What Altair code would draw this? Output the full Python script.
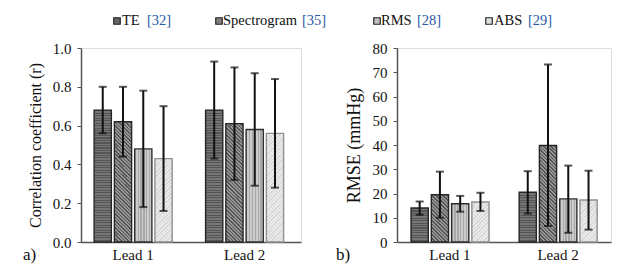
import math
import altair as alt
import pandas as pd

# ---------------- data ----------------
leads = ["Lead 1", "Lead 2"]
methods = ["TE", "Spectrogram", "RMS", "ABS"]
refs = ["[32]", "[35]", "[28]", "[29]"]

r_mean_lead1 = [0.68, 0.62, 0.48, 0.43]
r_lo_lead1 = [0.56, 0.44, 0.18, 0.16]
r_hi_lead1 = [0.80, 0.80, 0.78, 0.70]
r_mean_lead2 = [0.68, 0.61, 0.58, 0.56]
r_lo_lead2 = [0.43, 0.32, 0.29, 0.28]
r_hi_lead2 = [0.93, 0.90, 0.87, 0.84]

rmse_mean_lead1 = [14.0, 19.5, 15.8, 16.5]
rmse_lo_lead1 = [11.2, 10.0, 12.5, 12.8]
rmse_hi_lead1 = [16.7, 29.0, 19.0, 20.3]
rmse_mean_lead2 = [20.5, 39.8, 17.8, 17.3]
rmse_lo_lead2 = [11.7, 6.6, 3.8, 5.1]
rmse_hi_lead2 = [29.2, 73.2, 31.5, 29.4]

r_ticks = [0.0, 0.2, 0.4, 0.6, 0.8, 1.0]
rmse_ticks = [0, 10, 20, 30, 40, 50, 60, 70, 80]

# ---------------- styles ----------------
FONT = "'Liberation Serif', 'Times New Roman', 'DejaVu Serif', serif"
FS = 15
H = 194
WA, WB = 220, 214
BAR_W = 17
fills = {  # (dark, light, pattern)
    "TE": ("#555555", "#767676", "h"),
    "Spectrogram": ("#555555", "#969696", "d1"),
    "RMS": ("#a8a8a8", "#cccccc", "v"),
    "ABS": ("#d6d6d6", "#ececec", "d2"),
}
strokes = {"TE": "#262626", "Spectrogram": "#262626", "RMS": "#2e2e2e", "ABS": "#8f8f8f"}
solid = {"TE": "#666666", "Spectrogram": "#808080", "RMS": "#c0c0c0", "ABS": "#e2e2e2"}


def stripe_stops(c1, c2, n):
    stops = []
    n = max(1, int(round(n)))
    for i in range(n):
        a, b, c = i / n, (i + 0.45) / n, (i + 1) / n
        stops += [{"offset": a, "color": c1}, {"offset": b, "color": c1},
                  {"offset": b, "color": c2}, {"offset": c, "color": c2}]
    return stops


def gradient(method, hpx):
    c1, c2, pat = fills[method]
    w = BAR_W
    h = max(hpx, 1.0)
    period = 2.5
    if pat == "h":
        return {"gradient": "linear", "x1": 0, "y1": 0, "x2": 0, "y2": 1,
                "stops": stripe_stops(c1, c2, h / period)}
    if pat == "v":
        return {"gradient": "linear", "x1": 0, "y1": 0, "x2": 1, "y2": 0,
                "stops": stripe_stops(c1, c2, w / 3.0)}
    s = (w + h) * w / (w * w + h * h)
    n = (w + h) / (period * math.sqrt(2))
    if pat == "d1":  # lines going down-right
        return {"gradient": "linear", "x1": 0, "y1": 1, "x2": s, "y2": 1 - s * h / w,
                "stops": stripe_stops(c1, c2, n)}
    return {"gradient": "linear", "x1": 0, "y1": 0, "x2": s, "y2": s * h / w,
            "stops": stripe_stops(c1, c2, n)}


def make_df(m1, lo1, hi1, m2, lo2, hi2):
    rows = []
    for lead, m, lo, hi in [("Lead 1", m1, lo1, hi1), ("Lead 2", m2, lo2, hi2)]:
        for i, meth in enumerate(methods):
            rows.append({"lead": lead, "method": meth, "mean": m[i], "lo": lo[i], "hi": hi[i]})
    return pd.DataFrame(rows)


def panel(df, width, ymax, ticks, fmt, ytitle, title_fs, tag, legend_items, xpad):
    p_i, p_o, al = xpad
    x = alt.X("lead:N", sort=leads, title=None,
              scale=alt.Scale(paddingInner=p_i, paddingOuter=p_o, align=al),
              axis=alt.Axis(labelAngle=0, ticks=False, domainColor="#555555", domainWidth=1.5,
                            labelFont=FONT, labelFontSize=FS, labelColor="#111111",
                            labelPadding=5))
    xo = alt.XOffset("method:N", sort=methods,
                     scale=alt.Scale(paddingInner=0.15, paddingOuter=0.0))
    yscale = alt.Scale(domain=[0, ymax], nice=False, zero=True)
    yaxis = alt.Axis(values=ticks, format=fmt, grid=False, tickSize=4,
                     labelOverlap=False, labelFlush=False,
                     tickColor="#555555", domainColor="#555555", domainWidth=1.5,
                     labelFont=FONT, labelFontSize=FS, labelColor="#111111",
                     labelPadding=6, titleFont=FONT, titleFontSize=title_fs,
                     titleFontWeight="normal", titleColor="#111111",
                     titlePadding=9)

    def Y(field):
        return alt.Y(f"{field}:Q", title=ytitle, scale=yscale, axis=yaxis)

    base = alt.Chart(df)
    layers = []
    for _, row in df.iterrows():
        hpx = row["mean"] / ymax * H
        layers.append(
            base.transform_filter(
                (alt.datum.lead == row["lead"]) & (alt.datum.method == row["method"])
            ).mark_bar(fill=gradient(row["method"], hpx), stroke=strokes[row["method"]],
                       strokeWidth=1.4).encode(x=x, xOffset=xo, y=Y("mean"))
        )
    layers.append(base.mark_rule(color="#111111", strokeWidth=2).encode(
        x=x, xOffset=xo, y=Y("lo"), y2="hi:Q"))
    for f in ["lo", "hi"]:
        layers.append(base.mark_tick(color="#111111", thickness=2, size=8, orient="horizontal").encode(
            x=x, xOffset=xo, y=Y(f)))
    # panel tag a) / b)
    layers.append(alt.Chart(pd.DataFrame({"t": [tag]})).mark_text(
        font=FONT, fontSize=17, align="left", baseline="middle", color="#111111").encode(
        text="t:N", x=alt.value(legend_items["tagx"]), y=alt.value(H + 13)))
    # legend entries
    for meth, sx, tx, rx in legend_items["items"]:
        i = methods.index(meth)
        ld = pd.DataFrame({"m": [meth], "r": [refs[i]]})
        layers.append(alt.Chart(ld).mark_square(
            size=42, fill=solid[meth], stroke="#222222", strokeWidth=1.2, opacity=1).encode(
            x=alt.value(sx), y=alt.value(-27)))
        layers.append(alt.Chart(ld).mark_text(
            font=FONT, fontSize=14.5, align="left", baseline="middle", color="#111111").encode(
            text="m:N", x=alt.value(tx), y=alt.value(-27)))
        layers.append(alt.Chart(ld).mark_text(
            font=FONT, fontSize=14.5, align="left", baseline="middle", color="#2b5aa8").encode(
            text="r:N", x=alt.value(rx), y=alt.value(-27)))
    return alt.layer(*layers).properties(width=width, height=H)


df_r = make_df(r_mean_lead1, r_lo_lead1, r_hi_lead1, r_mean_lead2, r_lo_lead2, r_hi_lead2)
df_e = make_df(rmse_mean_lead1, rmse_lo_lead1, rmse_hi_lead1,
               rmse_mean_lead2, rmse_lo_lead2, rmse_hi_lead2)

pa = panel(df_r, WA, 1.0, r_ticks, ".1f", "Correlation coefficient (r)", 16, "a)",
           {"tagx": -58, "items": [("TE", 36, 41, 66), ("Spectrogram", 138, 142, 221)]},
           (0.3, 0.137, 0.43))
pb = panel(df_e, WB, 80, rmse_ticks, "d", "RMSE (mmHg)", 18, "b)",
           {"tagx": -61, "items": [("RMS", -20, -16, 20), ("ABS", 92, 97, 131)]},
           (0.28, 0.13, 0.5))

chart = alt.hconcat(pa, pb, spacing=96, bounds="flush").properties(
    padding={"left": 14, "top": 4, "right": 5, "bottom": 0}
).configure_view(strokeWidth=0).configure(background="white", font=FONT)

chart.save("out.html", embed_options={"renderer": "svg", "actions": False})
